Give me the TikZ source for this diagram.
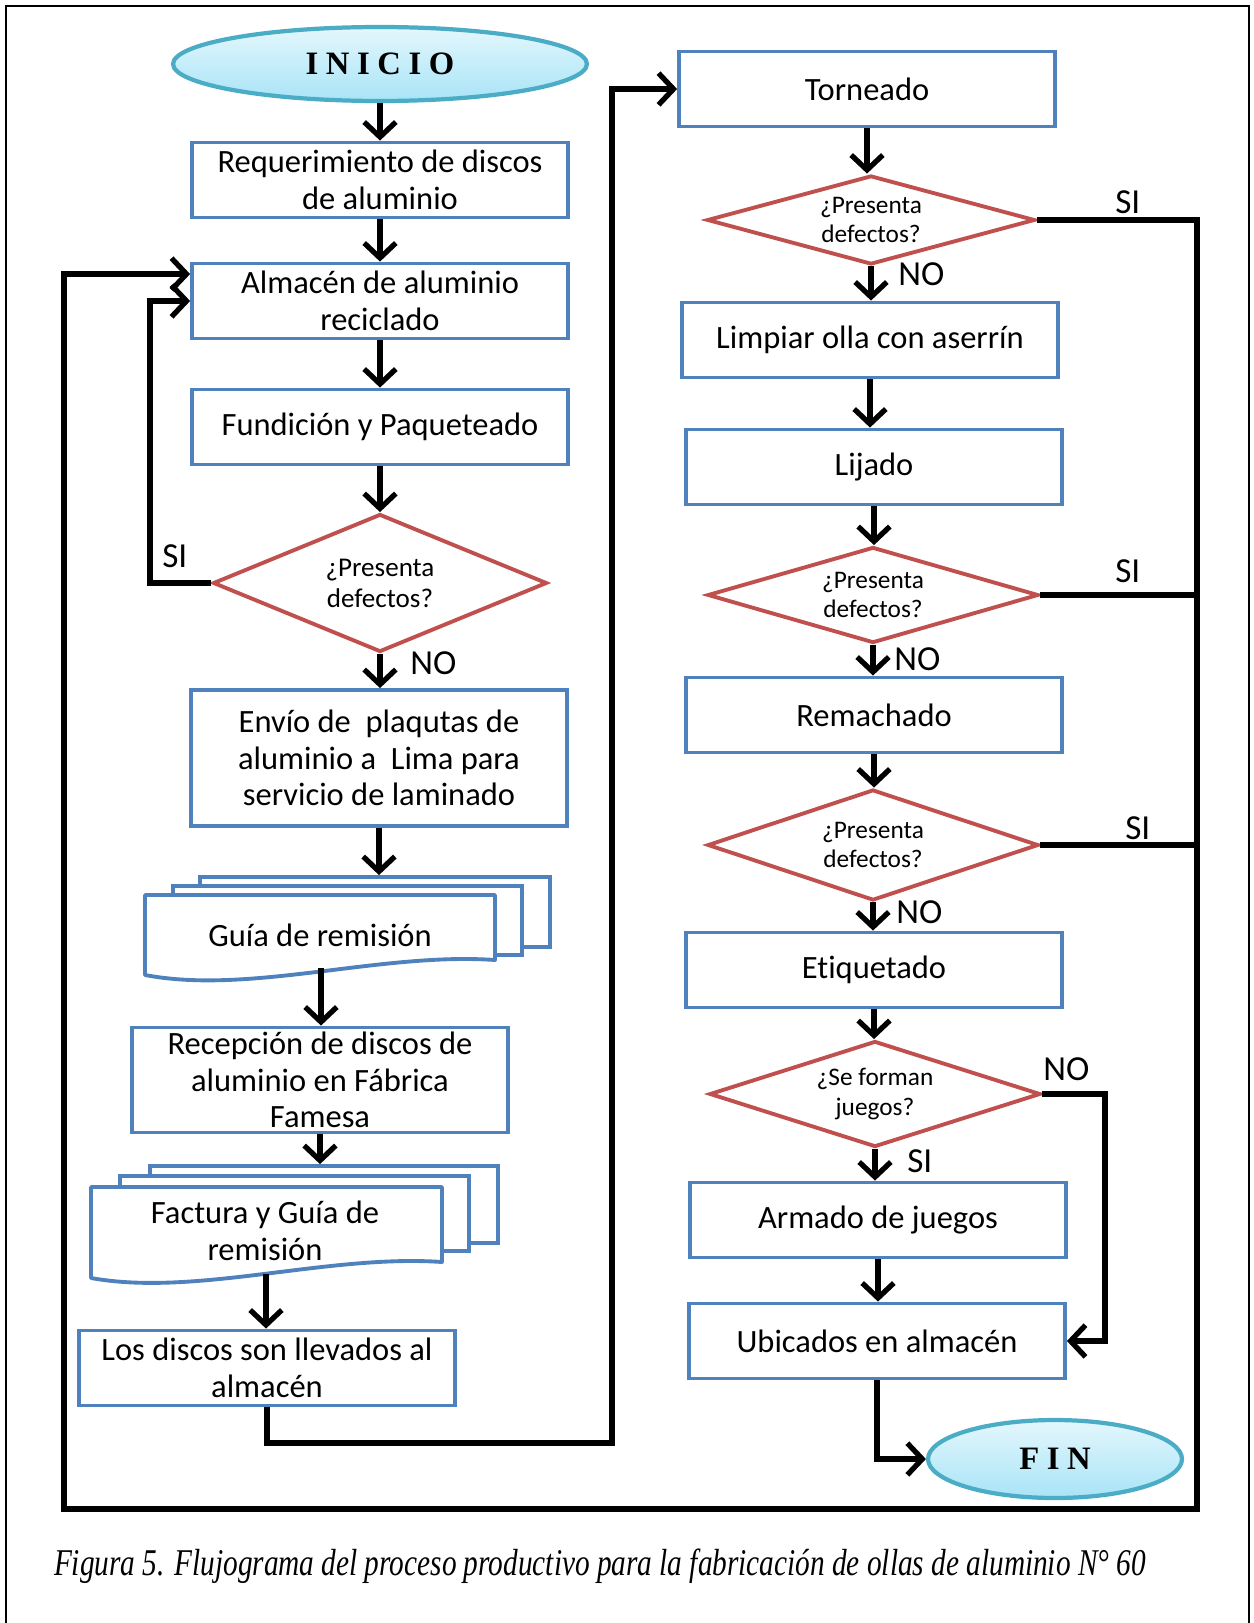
\documentclass[tikz,border=0pt]{standalone}
\usepackage{fontspec}
\setmainfont{Carlito}[Ligatures={NoCommon}]
\newfontfamily\capserif{Liberation Serif}
\usetikzlibrary{shapes.geometric,arrows.meta,calc}

\definecolor{boxblue}{RGB}{79,129,189}
\definecolor{decred}{RGB}{192,80,77}
\definecolor{termedge}{RGB}{75,172,198}
\definecolor{termtop}{RGB}{228,247,253}
\definecolor{termbot}{RGB}{168,228,247}

\newcommand{\spaced}[1]{{\capserif\bfseries\fontsize{18.6}{20}\selectfont #1}}

\begin{document}
\begin{tikzpicture}[x=0.02cm,y=-0.02cm,
  proc/.style={draw=boxblue, line width=2.2pt, fill=white, minimum width=7.52cm,
    minimum height=1.5cm, inner sep=0pt, align=center,
    font=\fontsize{18.5}{20.7}\selectfont},
  docback/.style={draw=boxblue, line width=2.2pt, fill=white, inner sep=0pt},
  docline/.style={draw=boxblue, line width=2.2pt, fill=white, line join=round},
  doctext/.style={align=center, inner sep=0pt, font=\fontsize{18.5}{20.7}\selectfont},
  decision/.style={diamond, draw=decred, line width=2.2pt, fill=white, inner sep=0pt},
  dtextL/.style={align=center, inner sep=0pt, font=\fontsize{15.4}{17.6}\selectfont},
  dtextR/.style={align=center, inner sep=0pt, font=\fontsize{14.4}{16.8}\selectfont},
  term/.style={ellipse, draw=termedge, line width=2.4pt, top color=termtop,
    bottom color=termbot, inner sep=0pt},
  flow/.style={line width=3pt, -{Straight Barb[length=8.5pt,width=18pt]}},
  bus/.style={line width=3pt},
  tag/.style={anchor=west, inner sep=0pt, font=\fontsize{20}{22}\selectfont},
]
\useasboundingbox (0,0) rectangle (1254,1623);

% page frame
\draw[line width=1.4pt] (6,1623) -- (6,6) -- (1249,6) -- (1249,1623);

% ---------- left column ----------
\node[term, minimum width=8.28cm, minimum height=1.48cm] (inicio) at (380,64)
  {\spaced{I\kern4.3pt N\kern4.3pt I\kern4.3pt C\kern4.3pt I\kern4.3pt O}};
\node[proc] (req) at (380,180) {Requerimiento de discos\\de aluminio};
\node[proc] (alm) at (380,301) {Almacén de aluminio\\reciclado};
\node[proc] (fund) at (380,427) {Fundición y Paqueteado};
\node[decision, minimum width=6.68cm, minimum height=2.76cm,
  label={[dtextL, name=d1txt]center:{¿Presenta\\defectos?}}] (d1) at (380,583) {};
\node[proc, minimum height=2.72cm] (envio) at (379,758)
  {Envío de \ plaqutas de\\aluminio a \ Lima para\\servicio de laminado};

% stacked documents: Guía de remisión
\node[docback, minimum width=7.0cm, minimum height=1.4cm] (guiaC) at (375,912) {};
\node[docback, minimum width=6.98cm, minimum height=1.38cm] (guiaB) at (347.5,920.5) {};
\draw[docline] (145,895) -- (495,895) -- (495,960)
  .. controls (380,952) and (250,995) .. (145,975) -- cycle;
\node[doctext] (guia) at (320,935) {Guía de remisión};

\node[proc, minimum height=2.1cm,
  label={[doctext, name=receptxt]center:{Recepción de discos de\\aluminio en Fábrica\\Famesa}}]
  (recep) at (320,1080) {};

% stacked documents: Factura y Guía de remisión
\node[docback, minimum width=6.96cm, minimum height=1.54cm] (facC) at (324,1204.5) {};
\node[docback, minimum width=6.98cm, minimum height=1.5cm] (facB) at (294.5,1213.5) {};
\draw[docline] (91,1187) -- (442,1187) -- (442,1262)
  .. controls (327,1254) and (196,1297) .. (91,1278) -- cycle;
\node[doctext] (factura) at (265,1231) {Factura y Guía de\\remisión};

\node[proc] (discos) at (267,1368) {Los discos son llevados al\\almacén};

% ---------- right column ----------
\node[proc] (torneado) at (867,89) {Torneado};
\node[decision, minimum width=6.56cm, minimum height=1.78cm,
  label={[dtextR, name=d2txt]center:{¿Presenta\\defectos?}}] (d2) at (871,220) {};
\node[proc] (limpiar) at (870,340) {Limpiar olla con aserrín};
\node[proc] (lijado) at (874,467) {Lijado};
\node[decision, minimum width=6.62cm, minimum height=1.92cm,
  label={[dtextR, name=d3txt]center:{¿Presenta\\defectos?}}] (d3) at (873,595) {};
\node[proc] (remachado) at (874,715) {Remachado};
\node[decision, minimum width=6.62cm, minimum height=2.22cm,
  label={[dtextR, name=d4txt]center:{¿Presenta\\defectos?}}] (d4) at (873,845) {};
\node[proc] (etiquetado) at (874,970) {Etiquetado};
\node[decision, minimum width=6.62cm, minimum height=2.12cm,
  label={[dtextR, name=d5txt]center:{¿Se forman\\juegos?}}] (d5) at (875,1094) {};
\node[proc] (armado) at (878,1220) {Armado de juegos};
\node[proc] (ubicados) at (877,1341) {Ubicados en almacén};
\node[term, minimum width=5.08cm, minimum height=1.56cm] (fin) at (1055,1459)
  {\spaced{F\kern4.3pt I\kern4.3pt N}};

% ---------- routing points ----------
\coordinate (busx) at (1197,0);
\coordinate (loopy) at (0,1509);
\coordinate (lx) at (64,1509);
\coordinate (sx) at (150,0);
\coordinate (lowturn) at (612,1443);
\coordinate (nox) at (1105,0);
\coordinate (guiaout) at (321,968);
\coordinate (facout) at (266,1274);

% ---------- connectors, left column ----------
\draw[flow] (inicio.south) -- (inicio.south |- req.north);
\draw[flow] (req.south) -- (req.south |- alm.north);
\draw[flow] (alm.south) -- (alm.south |- fund.north);
\draw[flow] (fund.south) -- (fund.south |- d1.north);
\draw[flow] (d1.south) -- (d1.south |- envio.north);
\draw[flow] (envio.south) -- (envio.south |- guiaC.north);
\draw[flow] (guiaout) -- (guiaout |- recep.north);
\draw[flow] (recep.south) -- (recep.south |- facC.north);
\draw[flow] (facout) -- (facout |- discos.north);
\draw[flow] (d1.west) -- (d1.west -| sx) |- (alm.west);
\draw[flow] (discos.south) |- (lowturn) |- (torneado.west);

% ---------- connectors, right column ----------
\draw[flow] (torneado.south) -- (torneado.south |- d2.north);
\draw[flow] (d2.south) -- (d2.south |- limpiar.north);
\draw[flow] (limpiar.south) -- (limpiar.south |- lijado.north);
\draw[flow] (lijado.south) -- (lijado.south |- d3.north);
\draw[flow] (d3.south) -- (d3.south |- remachado.north);
\draw[flow] (remachado.south) -- (remachado.south |- d4.north);
\draw[flow] (d4.south) -- (d4.south |- etiquetado.north);
\draw[flow] (etiquetado.south) -- (etiquetado.south |- d5.north);
\draw[flow] (d5.south) -- (d5.south |- armado.north);
\draw[flow] (armado.south) -- (armado.south |- ubicados.north);
\draw[flow] (d5.east) -- (d5.east -| nox) |- (ubicados.east);
\draw[flow] (ubicados.south) |- (fin.west);

% defect returns to the recycled aluminium store
\draw[flow] (d2.east) -- (d2.east -| busx) -- (busx |- loopy) -- (lx)
  |- ([yshift=0.54cm]alm.west);
\draw[bus] (d3.east) -- (d3.east -| busx);
\draw[bus] (d4.east) -- (d4.east -| busx);

% ---------- branch labels ----------
\node[tag] (noA) at (410,663) {NO};
\node[tag] (siA) at (162,556) {SI};
\node[tag] (siB) at (1115,202) {SI};
\node[tag] (noB) at (898,274) {NO};
\node[tag] (siC) at (1115,571) {SI};
\node[tag] (noC) at (894,659) {NO};
\node[tag] (siD) at (1125,828) {SI};
\node[tag] (noD) at (896,912) {NO};
\node[tag] (siE) at (907,1161) {SI};
\node[tag] (noE) at (1043,1069) {NO};

% ---------- caption ----------
\node[inner sep=0pt, font=\capserif\itshape\fontsize{21.5}{24}\selectfont] (caption) at (600,1566)
  {\resizebox{21.84cm}{\height}{Figura 5. Flujograma del proceso productivo para la fabricación de ollas de aluminio N° 60}};
\end{tikzpicture}
\end{document}
